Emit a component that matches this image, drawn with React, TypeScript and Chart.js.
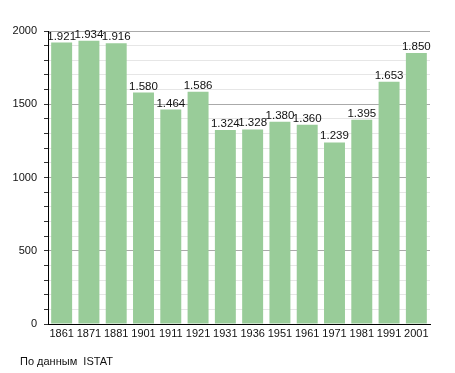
import React, { useEffect, useRef } from "react";
import { Chart, registerables } from "chart.js";

Chart.register(...registerables);

const years = ["1861", "1871", "1881", "1901", "1911", "1921", "1931", "1936", "1951", "1961", "1971", "1981", "1991", "2001"];
const population = [1921, 1934, 1916, 1580, 1464, 1586, 1324, 1328, 1380, 1360, 1239, 1395, 1653, 1850];
const sourceNote = "По данным  ISTAT";

const FONT = "'Liberation Sans', Arial, sans-serif";

const fmt = (v: number) => {
  const s = String(v);
  return s.length > 3 ? s.slice(0, s.length - 3) + "." + s.slice(s.length - 3) : s;
};

const labelsPlugin = {
  id: "valueLabels",
  afterDatasetsDraw(chart: any) {
    const ctx = chart.ctx;
    const meta = chart.getDatasetMeta(0);
    ctx.save();
    ctx.font = `11.5px ${FONT}`;
    ctx.fillStyle = "#111";
    ctx.textAlign = "center";
    ctx.textBaseline = "alphabetic";
    meta.data.forEach((bar: any, i: number) => {
      ctx.fillText(fmt(population[i]), bar.x, bar.y - 3);
    });
    ctx.font = `11px ${FONT}`;
    ctx.textAlign = "left";
    ctx.textBaseline = "middle";
    ctx.fillText(sourceNote, 20, 362);
    ctx.restore();
  },
};

export default function App() {
  const ref = useRef<HTMLCanvasElement>(null);
  useEffect(() => {
    if (!ref.current) return;
    const chart = new Chart(ref.current, {
      type: "bar",
      data: {
        labels: years,
        datasets: [
          {
            data: population,
            backgroundColor: "#99cc99",
            borderWidth: 0,
            barPercentage: 0.8,
            categoryPercentage: 0.96,
          },
        ],
      },
      options: {
        animation: false,
        responsive: false,
        maintainAspectRatio: false,
        layout: { padding: { top: 31, right: 25, left: 0, bottom: 0 } },
        plugins: { legend: { display: false }, tooltip: { enabled: false } },
        scales: {
          x: {
            grid: { display: false, drawTicks: false },
            border: { color: "#000", width: 1 },
            ticks: { color: "#111", font: { size: 11, family: FONT }, padding: 3, maxRotation: 0, autoSkip: false },
            afterFit: (s: any) => { s.height = 49; },
          },
          y: {
            min: 0,
            max: 2000,
            grid: {
              color: (c: any) => (c.tick && c.tick.value % 500 === 0 ? "#aaaaaa" : "#e6e6e6"),
              tickColor: "#333",
              tickLength: 4,
              lineWidth: 1,
            },
            border: { color: "#000", width: 1 },
            ticks: {
              stepSize: 100,
              autoSkip: false,
              color: "#111",
              font: { size: 11, family: FONT },
              padding: 7,
              callback: (v: any) => (Number(v) % 500 === 0 ? String(v) : ""),
            },
            afterFit: (s: any) => { s.width = 48; },
          },
        },
      },
      plugins: [labelsPlugin],
    });
    return () => chart.destroy();
  }, []);
  return (
    <div style={{ position: "fixed", left: 0, top: 0, width: 455, height: 373, background: "#fff" }}>
      <canvas ref={ref} width={455} height={373} style={{ display: "block" }} />
    </div>
  );
}
